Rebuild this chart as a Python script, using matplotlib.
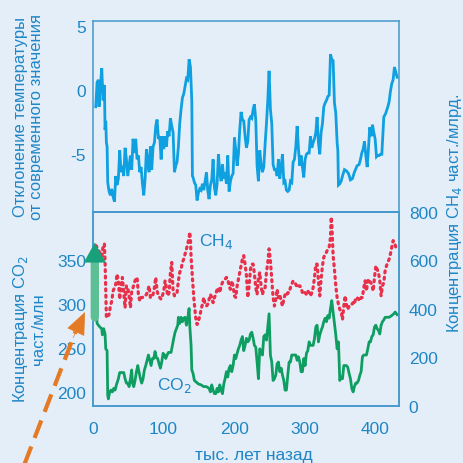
import numpy as np
import matplotlib
matplotlib.use("Agg")
import matplotlib.pyplot as plt
from matplotlib.lines import Line2D

# --- data (Vostok ice core) ---
temp_age = [3.8, 5.7, 7.6, 8.5, 10.4, 12.3, 14.2, 16.1, 17.0, 18.0, 18.9, 19.9,
            20.8, 22.7, 24.6, 26.5, 28.4, 30.3, 32.2, 34.0, 35.9, 37.8, 39.7, 41.6,
            43.5, 45.4, 47.3, 49.2, 51.1, 53.0, 54.8, 56.7, 58.6, 60.5, 62.4, 64.3,
            66.2, 68.1, 70.0, 71.9, 73.8, 75.7, 77.5, 79.4, 81.3, 83.2, 85.1, 87.0,
            88.9, 90.8, 92.7, 94.6, 96.5, 98.3, 100.2, 102.1, 104.0, 105.9, 107.8,
            109.7, 111.6, 113.5, 115.4, 117.3, 119.1, 121.0, 122.9, 124.8, 126.7,
            128.6, 130.5, 132.4, 134.3, 136.2, 138.1, 140.0, 140.9, 141.8, 143.7,
            145.6, 147.5, 149.4, 151.3, 153.2, 155.1, 157.0, 158.9, 160.8, 162.6,
            164.5, 166.4, 168.3, 170.2, 172.1, 174.0, 175.9, 177.8, 179.7, 181.6,
            183.5, 185.4, 187.2, 189.1, 191.0, 192.9, 194.8, 196.7, 198.6, 200.5,
            202.4, 204.3, 206.1, 208.0, 209.9, 211.8, 213.7, 215.6, 217.5, 219.4,
            221.3, 223.2, 225.1, 227.0, 228.8, 230.7, 232.6, 234.5, 236.4, 238.3,
            240.2, 242.1, 244.0, 245.9, 247.8, 249.6, 251.5, 253.4, 255.3, 257.2,
            259.1, 261.0, 262.9, 264.8, 266.7, 268.6, 270.5, 272.3, 274.2, 276.1,
            278.0, 279.9, 281.8, 283.7, 285.6, 287.5, 289.4, 291.3, 293.2, 295.0,
            296.9, 298.8, 300.7, 302.6, 304.5, 306.4, 308.3, 310.2, 312.1, 314.0,
            315.9, 317.7, 319.6, 321.5, 323.4, 325.3, 327.2, 329.1, 331.0, 332.9,
            334.8, 336.7, 338.5, 340.4, 342.3, 344.2, 346.1, 347.1, 348.0, 349.9,
            351.8, 353.7, 356.5, 359.3, 362.2, 365.0, 367.8, 370.6, 374.4, 377.3,
            379.2, 381.1, 383.0, 384.9, 386.8, 388.7, 390.5, 392.4, 394.3, 396.2,
            398.1, 400.0, 401.9, 403.8, 405.7, 407.6, 409.5, 412.3, 415.1, 418.0,
            419.9, 421.7, 423.6, 425.5, 427.4, 429.3, 431.2]
temp = [-1.3, 0.6, 0.8, -1.3, 0.3, 1.7, -0.8, 0.4, -3.1, -2.4, -4.1, -4.4,
        -7.2, -7.9, -8.2, -7.7, -8.3, -8.7, -6.7, -7.4, -6.9, -4.7, -6.4, -5.9,
        -6.7, -4.5, -5.4, -6.7, -5.9, -5.1, -6.2, -3.8, -4.9, -3.8, -5.4, -5.1,
        -6.4, -6.0, -7.3, -8.2, -6.9, -4.6, -5.6, -6.4, -4.4, -6.2, -4.4, -4.1,
        -2.8, -2.3, -3.8, -3.6, -5.4, -3.6, -4.6, -3.6, -4.4, -3.2, -3.6,
        -2.2, -2.8, -3.3, -6.4, -5.9, -5.6, -4.4, -2.6, -1.5, -0.6,
        -0.3, 0.3, 0.9, 0.8, 2.4, 1.8, -0.8, -6.7, -6.8, -7.2,
        -7.4, -8.6, -8.0, -7.7, -7.8, -7.3, -7.8, -7.1, -6.4, -7.8,
        -8.5, -7.4, -7.0, -5.4, -7.6, -8.2, -7.3, -5.0, -6.4, -7.1,
        -5.8, -6.9, -6.4, -7.3, -5.1, -7.9, -7.1, -6.7, -6.5, -3.7,
        -4.7, -5.9, -5.0, -3.1, -1.7, -2.3, -2.4, -3.6, -4.5, -4.0,
        -2.3, -2.1, -2.2, -1.5, -1.1, -2.3, -5.9, -7.1, -4.7, -5.8,
        -6.4, -6.0, -4.2, -2.6, -0.8, 1.5, -1.5, -2.6, -5.8, -6.2,
        -6.2, -6.7, -5.4, -6.9, -6.0, -5.0, -7.2, -7.1, -7.8, -7.9,
        -7.8, -7.1, -7.2, -5.6, -5.4, -4.4, -2.8, -4.6, -5.9, -5.1,
        -6.0, -6.8, -5.4, -5.0, -4.9, -4.9, -3.6, -4.5, -4.1, -3.8,
        -3.3, -2.1, -4.1, -5.0, -3.3, -2.6, -1.3, -1.0, -0.8, -0.5,
        -0.4, 2.8, 2.4, 2.3, -1.0, -1.8, -4.1, -4.7, -7.4, -7.3,
        -7.1, -6.7, -6.2, -6.3, -6.5, -7.0, -6.9, -6.4, -5.9, -5.8,
        -5.4, -4.9, -4.6, -4.0, -5.1, -6.0, -4.6, -2.9, -3.6, -2.7,
        -3.3, -3.8, -5.2, -5.1, -5.1, -5.0, -5.0, -2.1, -1.8, -1.3,
        -0.9, -0.1, 0.5, 0.8, 1.8, 1.4, 1.0]

co2_age = [4.7, 5.7, 9.5, 12.3, 13.2, 15.1, 17.0, 18.0, 19.9, 20.8, 21.7, 23.6,
           25.5, 27.4, 29.3, 31.2, 33.1, 35.9, 37.8, 40.7, 43.5, 45.4, 47.3, 49.2,
           51.1, 53.0, 54.8, 55.8, 57.7, 59.6, 61.5, 63.4, 65.2, 67.1, 69.0, 70.9,
           72.8, 74.7, 76.6, 78.5, 80.4, 82.3, 84.2, 86.1, 87.9, 89.8, 91.7, 93.6,
           95.5, 97.4, 99.3, 101.2, 103.1, 105.0, 106.9, 108.7, 110.6, 112.5, 114.4,
           116.3, 118.2, 120.1, 121.0, 122.9, 124.8, 126.7, 128.6, 130.5, 132.4,
           134.3, 136.2, 137.1, 139.0, 140.0, 141.8, 143.7, 146.6, 149.4, 153.2,
           156.9, 160.8, 164.5, 166.4, 168.3, 170.2, 172.1, 174.0, 175.9, 177.8,
           179.7, 181.6, 183.5, 185.4, 187.2, 189.1, 191.0, 192.9, 194.8, 196.7,
           198.6, 200.5, 202.4, 204.3, 206.1, 208.0, 209.9, 211.8, 213.7, 215.6,
           217.5, 219.4, 221.3, 223.2, 225.1, 227.0, 228.8, 230.7, 232.6, 234.5,
           236.4, 238.3, 240.2, 242.1, 244.0, 245.9, 247.8, 249.6, 251.5, 253.4,
           255.3, 257.2, 259.1, 261.0, 262.9, 264.8, 266.7, 268.6, 270.5, 272.3,
           274.2, 276.1, 278.0, 279.9, 281.8, 283.7, 285.6, 287.5, 289.4, 291.3,
           293.2, 295.0, 296.9, 298.8, 300.7, 302.6, 304.5, 306.4, 308.3, 310.2,
           312.1, 314.0, 315.9, 317.7, 319.6, 321.5, 323.4, 325.3, 327.2, 329.1,
           331.0, 332.9, 334.8, 336.7, 338.5, 340.4, 342.3, 344.2, 346.1, 348.0,
           349.9, 351.8, 353.7, 355.6, 359.3, 361.2, 363.1, 365.0, 366.9, 368.8,
           370.6, 372.5, 374.4, 376.4, 378.3, 380.1, 382.0, 383.9, 385.8, 387.7,
           389.6, 391.5, 393.4, 395.3, 397.2, 399.1, 401.0, 402.8, 404.7, 406.6,
           408.5, 410.4, 412.3, 414.2, 416.1, 419.9, 423.6, 426.5, 428.4, 431.2]
co2 = [291, 278, 274, 272, 265, 272, 266, 249, 247, 196, 192, 200,
       202, 200, 204, 202, 208, 215, 222, 222, 222, 215, 210, 210,
       206, 215, 225, 210, 206, 213, 223, 230, 223, 215, 210, 215,
       225, 230, 236, 242, 236, 230, 238, 238, 246, 239, 238, 232,
       227, 234, 244, 242, 238, 242, 245, 245, 245, 253, 261,
       268, 272, 276, 285, 278, 285, 280, 284, 285, 276,
       284, 295, 276, 253, 225, 221, 213, 211, 209, 208,
       206, 206, 204, 200, 208, 202, 198, 198, 204, 200,
       208, 202, 198, 209, 215, 223, 217, 227, 230, 223,
       230, 242, 238, 244, 249, 253, 259, 263, 247, 253,
       261, 257, 259, 266, 268, 261, 253, 251, 234, 215,
       249, 246, 242, 263, 265, 259, 274, 289, 242, 234,
       213, 215, 219, 232, 234, 223, 227, 219, 213, 202,
       202, 219, 234, 234, 242, 242, 242, 242, 236, 240,
       234, 223, 223, 238, 230, 244, 247, 257, 253, 253,
       253, 261, 274, 276, 257, 265, 270, 274, 280, 284,
       280, 287, 284, 295, 304, 291, 278, 265, 249, 257,
       213, 217, 215, 230, 230, 228, 221, 215, 204, 200,
       206, 210, 210, 213, 219, 223, 240, 242, 242, 242,
       249, 257, 257, 263, 265, 274, 276, 272, 270, 266,
       276, 280, 282, 285, 285, 285, 287, 289, 291, 288]

ch4_age = [3.8, 5.7, 7.6, 9.5, 10.4, 12.3, 14.2, 16.1, 17.0, 18.0, 18.9, 20.8,
           22.7, 24.6, 26.5, 28.4, 30.3, 32.2, 34.0, 35.9, 37.8, 39.7, 41.6, 43.5,
           45.4, 47.3, 49.2, 51.1, 53.0, 54.8, 56.7, 58.6, 60.5, 62.4, 64.3, 66.2,
           68.1, 70.0, 71.9, 73.8, 75.7, 77.5, 79.4, 81.3, 83.2, 85.1, 87.0, 88.9,
           90.8, 92.7, 94.6, 96.5, 98.3, 100.2, 102.1, 104.0, 105.9, 107.8, 109.7,
           111.6, 113.5, 115.4, 117.3, 119.1, 121.0, 122.9, 124.8, 126.7, 128.6,
           130.5, 132.4, 134.3, 136.2, 137.1, 138.1, 139.0, 140.9, 142.8, 145.6,
           147.5, 149.4, 151.3, 153.2, 155.1, 157.0, 158.9, 160.8, 162.6, 164.5,
           166.4, 168.3, 170.2, 172.1, 174.0, 175.9, 177.8, 179.7, 181.6, 183.5,
           185.4, 187.2, 189.1, 191.0, 192.9, 194.8, 196.7, 198.6, 200.5, 202.4,
           204.3, 206.1, 208.0, 209.9, 211.8, 213.7, 215.6, 217.5, 219.4, 221.3,
           223.2, 225.1, 227.0, 228.8, 230.7, 232.6, 234.5, 236.4, 238.3, 240.2,
           242.1, 244.0, 245.9, 247.8, 249.6, 251.5, 253.4, 255.3, 257.2, 259.1,
           261.0, 262.9, 264.8, 266.7, 268.6, 270.5, 272.3, 274.2, 276.1, 278.0,
           279.9, 281.8, 283.7, 285.6, 287.5, 289.4, 291.3, 293.2, 295.0, 296.9,
           298.8, 300.7, 302.6, 304.5, 306.4, 308.3, 310.2, 312.1, 314.0, 315.9,
           317.7, 319.6, 321.5, 323.4, 325.3, 327.2, 329.1, 331.0, 332.9, 334.8,
           336.7, 337.6, 338.5, 339.5, 340.4, 342.3, 344.2, 346.1, 348.0, 349.9,
           351.8, 353.7, 355.6, 357.4, 359.3, 361.2, 363.1, 365.0, 366.9, 368.8,
           370.6, 372.5, 374.4, 376.4, 378.3, 380.1, 382.0, 383.9, 385.8, 387.7,
           389.6, 391.5, 393.4, 395.3, 397.2, 399.1, 401.0, 402.8, 404.7, 406.6,
           408.5, 410.4, 412.3, 414.2, 416.1, 418.0, 419.9, 421.7, 423.6, 425.5,
           427.4, 429.3]
ch4 = [662, 655, 641, 634, 606, 606, 662, 668, 599, 474, 363, 370,
       377, 412, 433, 474, 488, 502, 544, 516, 440, 495, 530, 467,
       405, 495, 488, 454, 405, 474, 488, 509, 523, 530, 460, 433,
       447, 447, 454, 454, 460, 474, 495, 447, 447, 460, 488, 530,
       474, 454, 447, 440, 454, 474, 516, 488, 454, 467, 551,
       592, 474, 454, 460, 467, 516, 551, 564, 592, 606,
       627, 648, 668, 696, 717, 689, 613, 530, 447, 363,
       336, 350, 370, 398, 419, 447, 419, 412, 419, 440,
       460, 447, 426, 447, 460, 481, 488, 467, 495, 509,
       516, 523, 530, 523, 495, 481, 516, 495, 454, 447,
       495, 523, 551, 578, 606, 620, 585, 537, 447, 495,
       564, 585, 585, 544, 488, 460, 530, 551, 495, 460,
       481, 488, 551, 592, 648, 599, 523, 447, 412, 440,
       481, 447, 460, 433, 412, 440, 460, 454, 467, 467,
       488, 502, 516, 509, 502, 488, 495, 495, 488, 467,
       474, 467, 460, 474, 467, 454, 467, 488, 530, 585,
       585, 516, 454, 523, 578, 613, 627, 634, 648, 655,
       696, 779, 759, 682, 620, 564, 495, 447, 419, 398,
       391, 356, 412, 454, 419, 398, 412, 412, 419, 426,
       419, 447, 447, 440, 433, 447, 447, 488, 516, 474,
       516, 523, 509, 502, 474, 530, 578, 564, 551, 516,
       454, 495, 509, 558, 578, 592, 606, 627, 655, 682,
       675, 655]

x_ticks = [0, 100, 200, 300, 400]
temp_ticks = [-5, 0, 5]
co2_ticks = [200, 250, 300, 350]
ch4_ticks = [0, 200, 400, 600, 800]

bg = "#e4eef8"
txt = "#1f86c6"
spine = "#4499cc"
orange = "#e57a25"

plt.rcParams["font.family"] = ["Liberation Sans", "DejaVu Sans"]
plt.rcParams["axes.unicode_minus"] = False

fig = plt.figure(figsize=(4.63, 4.64), dpi=100, facecolor=bg)
ax_t = fig.add_axes([0.201, 0.541, 0.661, 0.412], facecolor=bg)
ax_c = fig.add_axes([0.201, 0.123, 0.661, 0.418], facecolor=bg)
ax_m = ax_c.twinx()

ax_t.plot(temp_age, temp, color="#0ea0e0", lw=2.0, solid_joinstyle="miter")
ax_t.set_xlim(0, 434)
ax_t.set_ylim(-9.5, 5.4)
ax_t.set_xticks([])
ax_t.set_yticks(temp_ticks)

ax_m.plot(ch4_age, ch4, color="#e8304a", lw=2.3, linestyle=(0, (0.6, 1.4)),
          dash_capstyle="round")
ax_m.set_ylim(0, 800)
ax_m.set_yticks(ch4_ticks)

ax_c.plot(co2_age, co2, color="#0f9e62", lw=2.0)
ax_c.set_xlim(0, 434)
ax_c.set_ylim(184, 405)
ax_c.set_xticks(x_ticks)
ax_c.set_yticks(co2_ticks)
ax_c.set_zorder(ax_m.get_zorder() + 1)
ax_c.patch.set_visible(False)

for ax in (ax_t, ax_c, ax_m):
    for s in ax.spines.values():
        s.set_color(spine)
        s.set_linewidth(1.1)
    ax.tick_params(length=0, labelsize=12.5, colors=txt)
ax_t.tick_params(axis="y", pad=5)
ax_c.tick_params(axis="y", pad=5)
ax_c.tick_params(axis="x", pad=11)
ax_m.tick_params(axis="y", pad=7)

# in-plot labels
ax_c.text(175, 372, "CH$_4$", color=txt, fontsize=12.5, ha="center", va="center")
ax_c.text(116, 208, "CO$_2$", color=txt, fontsize=12.5, ha="center", va="center")

# green arrow at present day
ax_c.annotate("", xy=(2.5, 357), xytext=(2.5, 285),
              arrowprops=dict(arrowstyle="-", lw=6, color="#5dbf94",
                              shrinkA=0, shrinkB=0),
              annotation_clip=False)
ax_c.annotate("", xy=(2.5, 370), xytext=(2.5, 355),
              arrowprops=dict(arrowstyle="-|>,head_length=0.9,head_width=0.5",
                              lw=0.5, color="#17a07a", shrinkA=0, shrinkB=0,
                              mutation_scale=15),
              annotation_clip=False)

# orange dashed pointer: dashed shaft plus a solid head
fig.add_artist(Line2D([0.05, 0.163], [-0.01, 0.283], transform=fig.transFigure,
                      color=orange, lw=3, linestyle=(0, (4.5, 2.2))))
fig.add_artist(matplotlib.patches.FancyArrowPatch(
    (0.158, 0.27), (0.1836, 0.3254), transform=fig.transFigure,
    arrowstyle="-|>,head_length=1.0,head_width=0.42", mutation_scale=15,
    color=orange, lw=0.5, shrinkA=0, shrinkB=0))

fig.text(0.062, 0.747, "Отклонение температуры\nот современного значения",
         rotation=90, ha="center", va="center", color=txt, fontsize=12,
         multialignment="center", linespacing=1.05)
fig.text(0.062, 0.29, "Концентрация CO$_2$\nчаст./млн",
         rotation=90, ha="center", va="center", color=txt, fontsize=12,
         multialignment="center", linespacing=1.05)
fig.text(0.982, 0.54, "Концентрация CH$_4$ част./млрд.",
         rotation=90, ha="center", va="center", color=txt, fontsize=12)
fig.text(0.548, 0.018, "тыс. лет назад", ha="center", va="center",
         color=txt, fontsize=12.5)

fig.savefig("out.png", dpi=100, facecolor=bg)
